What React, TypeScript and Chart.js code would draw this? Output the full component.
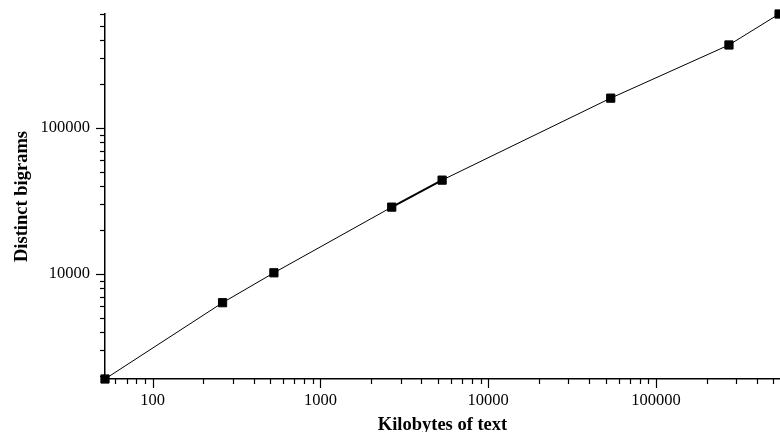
import React, { useEffect, useRef } from "react";
import { Chart, registerables } from "chart.js";

Chart.register(...registerables);

const kilobytes = [52, 261, 528, 2660, 5310, 53700, 272000, 541000];
const bigrams = [1915, 6370, 10200, 28700, 43900, 159700, 369000, 601000];
const xTickLabels = [100, 1000, 10000, 100000];
const yTickLabels = [10000, 100000];
const xTitle = "Kilobytes of text";
const yTitle = "Distinct bigrams";

const FONT = "'Liberation Serif', 'Times New Roman', serif";

const tickPlugin = {
  id: "logTicks",
  afterDraw(chart: any) {
    const ctx = chart.ctx;
    const xs = chart.scales.x;
    const ys = chart.scales.y;
    const area = chart.chartArea;
    ctx.save();
    ctx.strokeStyle = "#000";
    ctx.lineWidth = 1.2;
    const each = (min: number, max: number, fn: (v: number, major: boolean) => void) => {
      for (let e = Math.floor(Math.log10(min)); e <= Math.ceil(Math.log10(max)); e++) {
        for (let k = 1; k <= 9; k++) {
          const v = k * Math.pow(10, e);
          if (v >= min && v <= max) fn(v, k === 1);
        }
      }
    };
    each(xs.min, xs.max, (v, major) => {
      const px = Math.round(xs.getPixelForValue(v)) + 0.5;
      ctx.beginPath();
      ctx.moveTo(px, area.bottom);
      ctx.lineTo(px, area.bottom + (major ? 9 : 5));
      ctx.stroke();
    });
    each(ys.min, ys.max, (v, major) => {
      const py = Math.round(ys.getPixelForValue(v)) + 0.5;
      ctx.beginPath();
      ctx.moveTo(area.left, py);
      ctx.lineTo(area.left - (major ? 9 : 5), py);
      ctx.stroke();
    });
    ctx.restore();
  },
};

export default function App() {
  const ref = useRef<HTMLCanvasElement | null>(null);
  useEffect(() => {
    if (!ref.current) return;
    const chart = new Chart(ref.current, {
      type: "line",
      data: {
        datasets: [
          {
            data: kilobytes.map((x, i) => ({ x, y: bigrams[i] })),
            borderColor: "#000",
            backgroundColor: "#000",
            borderWidth: 1,
            pointStyle: "rect",
            pointRadius: 5.8,
            pointBorderWidth: 1,
            pointBackgroundColor: "#000",
            pointBorderColor: "#000",
            fill: false,
            tension: 0,
            clip: false,
            segment: {
              borderWidth: (c: any) => (c.p0DataIndex === 3 ? 2 : 1),
            },
          } as any,
        ],
      },
      options: {
        animation: false,
        responsive: false,
        maintainAspectRatio: false,
        layout: { autoPadding: false, padding: { top: 14, right: 0, left: 0, bottom: 0 } },
        plugins: {
          legend: { display: false },
          tooltip: { enabled: false },
        },
        scales: {
          x: {
            type: "logarithmic",
            min: 52,
            max: 548000,
            afterFit: (s: any) => {
              s.height = 53;
              s.paddingRight = 0;
              s.paddingLeft = 0;
            },
            border: { display: true, color: "#000", width: 1.5 },
            grid: {
              display: true,
              drawOnChartArea: false,
              drawTicks: true,
              tickLength: 8,
              color: "rgba(0,0,0,0)",
              tickColor: "rgba(0,0,0,0)",
            },
            ticks: {
              autoSkip: false,
              maxRotation: 0,
              padding: 4,
              color: "#000",
              font: { family: FONT, size: 16.5 },
              callback: (v: any) => (xTickLabels.includes(Number(v)) ? String(v) : ""),
            },
            title: {
              display: true,
              text: xTitle,
              color: "#000",
              font: { family: FONT, size: 18.5, weight: "bold", lineHeight: 1 },
              padding: { top: 0, bottom: -2 },
            },
          },
          y: {
            type: "logarithmic",
            min: 1915,
            max: 601000,
            afterFit: (s: any) => {
              s.width = 105;
              s.paddingTop = 0;
              s.paddingBottom = 0;
            },
            border: { display: true, color: "#000", width: 1.5 },
            grid: {
              display: true,
              drawOnChartArea: false,
              drawTicks: true,
              tickLength: 9,
              color: "rgba(0,0,0,0)",
              tickColor: "rgba(0,0,0,0)",
            },
            ticks: {
              autoSkip: false,
              padding: 6,
              color: "#000",
              font: { family: FONT, size: 16.5 },
              callback: (v: any) => (yTickLabels.includes(Number(v)) ? String(v) : ""),
            },
            title: {
              display: true,
              text: yTitle,
              color: "#000",
              font: { family: FONT, size: 18.5, weight: "bold", lineHeight: 1 },
              padding: { top: 13, bottom: 0 },
            },
          },
        },
      },
      plugins: [tickPlugin],
    });
    return () => chart.destroy();
  }, []);
  return (
    <div style={{ position: "fixed", left: 0, top: 0, width: 780, height: 432, background: "#fff" }}>
      <canvas ref={ref} width={780} height={432} style={{ width: 780, height: 432, display: "block" }} />
    </div>
  );
}
